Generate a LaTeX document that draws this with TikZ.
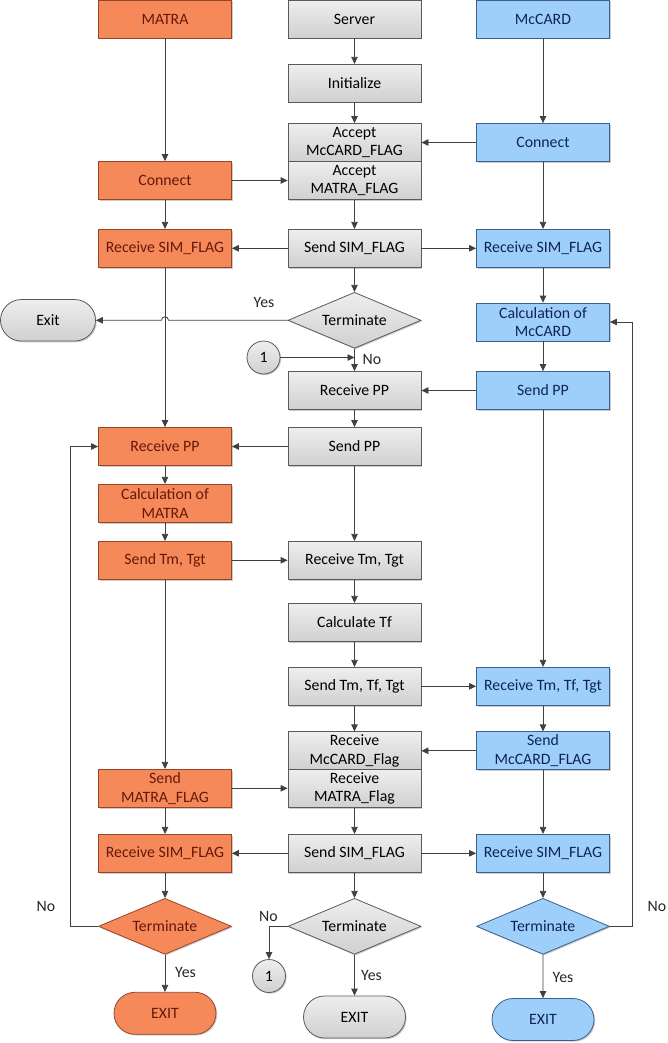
\documentclass[tikz,border=0pt]{standalone}
\usepackage{fontspec}
\setmainfont{Carlito}
\usetikzlibrary{arrows.meta,shapes.geometric,shapes.misc,shadows}
\definecolor{orfill}{RGB}{246,137,90}
\definecolor{ordraw}{RGB}{150,70,40}
\definecolor{ortext}{RGB}{100,25,10}
\definecolor{blfill}{RGB}{158,207,250}
\definecolor{bldraw}{RGB}{60,95,140}
\definecolor{bltext}{RGB}{15,35,90}
\definecolor{grtop}{RGB}{238,238,238}
\definecolor{grbot}{RGB}{208,208,208}
\definecolor{grdraw}{RGB}{90,90,90}
\definecolor{linec}{RGB}{64,64,64}
\begin{document}
\begin{tikzpicture}[x=1pt,y=-1pt,
 font=\fontsize{15.8}{18.7}\selectfont,
 nbase/.style={draw,line width=0.8pt,inner sep=0pt,align=center,
   drop shadow={shadow xshift=1.2pt,shadow yshift=-1.2pt,opacity=0.2,fill=black}},
 ocol/.style={fill=orfill,draw=ordraw,text=ortext},
 bcol/.style={fill=blfill,draw=bldraw,text=bltext},
 gcol/.style={top color=grtop,bottom color=grbot,draw=grdraw,text=black},
 box/.style={nbase,rectangle,minimum width=133pt,minimum height=38pt},
 obox/.style={box,ocol},
 bbox/.style={box,bcol},
 gbox/.style={box,gcol},
 dia/.style={nbase,diamond,aspect=2.375,minimum width=133pt,minimum height=56pt},
 termnl/.style={nbase,rounded rectangle,minimum width=102pt,minimum height=42pt},
 conn/.style={nbase,circle,minimum size=33pt,gcol},
 arr/.style={-{Triangle[length=7pt,width=6.5pt]},line width=0.8pt,draw=linec},
 lbl/.style={font=\fontsize{15.8}{18}\selectfont,text=black!85,inner sep=0pt}
]
\useasboundingbox (0,0) rectangle (668,1043);

% top row
\node[obox] (matra) at (165,19) {MATRA};
\node[gbox] (server) at (354.5,19) {Server};
\node[bbox] (mccard) at (543,19) {McCARD};
\node[gbox] (init) at (354.5,83.3) {Initialize};
\node[gbox] (accmc) at (354.5,142.5) {Accept\\McCARD\_FLAG};
\node[gbox] (accma) at (354.5,180.5) {Accept\\MATRA\_FLAG};
\node[obox] (conL) at (165,180.5) {Connect};
\node[bbox] (conR) at (543,142.5) {Connect};
\node[obox] (rsimL1) at (165,248.3) {Receive SIM\_FLAG};
\node[gbox] (ssim1) at (354.5,248.3) {Send SIM\_FLAG};
\node[bbox] (rsimR1) at (543,248.3) {Receive SIM\_FLAG};
\node[dia,gcol] (term1) at (354.5,320.3) {Terminate};
\node[termnl,gcol,minimum width=95pt,minimum height=41.5pt] (exit1) at (48,320.3) {Exit};
\node[bbox] (calcmc) at (543,322) {Calculation of\\McCARD};
\node[conn] (c1) at (263.5,357.5) {1};
\node[gbox] (rppM) at (354.5,390.5) {Receive PP};
\node[bbox] (sppR) at (543,390.5) {Send PP};
\node[obox] (rppL) at (165,446.5) {Receive PP};
\node[gbox] (sppM) at (354.5,446.5) {Send PP};
\node[obox] (calcma) at (165,503.3) {Calculation of\\MATRA};
\node[obox] (stmL) at (165,560.3) {Send Tm, Tgt};
\node[gbox] (rtmM) at (354.5,560.3) {Receive Tm, Tgt};
\node[gbox] (calctf) at (354.5,622.3) {Calculate Tf};
\node[gbox] (stfM) at (354.5,686.3) {Send Tm, Tf, Tgt};
\node[bbox] (rtfR) at (543,686.3) {Receive Tm, Tf, Tgt};
\node[gbox] (rmcf) at (354.5,750.8) {Receive\\McCARD\_Flag};
\node[bbox] (smcf) at (543,750.8) {Send\\McCARD\_FLAG};
\node[gbox] (rmaf) at (354.5,788.3) {Receive\\MATRA\_Flag};
\node[obox] (smaf) at (165,788.3) {Send\\MATRA\_FLAG};
\node[obox] (rsimL2) at (165,853.3) {Receive SIM\_FLAG};
\node[gbox] (ssim2) at (354.5,853.3) {Send SIM\_FLAG};
\node[bbox] (rsimR2) at (543,853.3) {Receive SIM\_FLAG};
\node[dia,ocol] (termL) at (165,926.3) {Terminate};
\node[dia,gcol] (termM) at (354.5,926.3) {Terminate};
\node[dia,bcol] (termR) at (543,926.3) {Terminate};
\node[conn] (c2) at (269,976) {1};
\node[termnl,ocol] (exitL) at (165,1013.3) {EXIT};
\node[termnl,gcol] (exitM) at (354.5,1017) {EXIT};
\node[termnl,bcol] (exitR) at (543,1019.5) {EXIT};

% labels
\node[lbl] (yes1) at (264,302) {Yes};
\node[lbl] (no1) at (372,359.5) {No};
\node[lbl] (noL) at (46,906.7) {No};
\node[lbl] (yesL) at (185.5,972) {Yes};
\node[lbl] (noM) at (268.5,916) {No};
\node[lbl] (yesM) at (371.5,975.7) {Yes};
\node[lbl] (noR) at (657,906) {No};
\node[lbl] (yesR) at (563,977) {Yes};

% left column
\draw[arr] (matra) -- (conL);
\draw[arr] (conL) -- (rsimL1);
\draw[arr] (rsimL1) -- (rppL);
\draw[arr] (rppL) -- (calcma);
\draw[arr] (calcma) -- (stmL);
\draw[arr] (stmL) -- (smaf);
\draw[arr] (smaf) -- (rsimL2);
\draw[arr] (rsimL2) -- (termL);
\draw[arr] (termL) -- (exitL);
\draw[arr] (termL.west) -- ++(-28,0) |- (rppL.west);
\draw[arr] (conL) -- (accma);

% middle column
\draw[arr] (server) -- (init);
\draw[arr] (init) -- (accmc);
\draw[arr] (accma) -- (ssim1);
\draw[arr] (ssim1) -- (rsimL1);
\draw[arr] (ssim1) -- (rsimR1);
\draw[arr] (ssim1) -- (term1);
\draw[arr] (term1.west) -- (168.5,320.3) .. controls (168.5,315.6) and (161.5,315.6) .. (161.5,320.3) -- (exit1.east);
\draw[arr] (term1) -- (rppM);
\draw[arr] (c1) -- (c1 -| rppM);
\draw[arr] (rppM) -- (sppM);
\draw[arr] (sppM) -- (rppL);
\draw[arr] (sppM) -- (rtmM);
\draw[arr] (stmL) -- (rtmM);
\draw[arr] (rtmM) -- (calctf);
\draw[arr] (calctf) -- (stfM);
\draw[arr] (stfM) -- (rtfR);
\draw[arr] (stfM) -- (rmcf);
\draw[arr] (smcf) -- (rmcf);
\draw[arr] (smaf) -- (rmaf);
\draw[arr] (rmaf) -- (ssim2);
\draw[arr] (ssim2) -- (rsimL2);
\draw[arr] (ssim2) -- (rsimR2);
\draw[arr] (ssim2) -- (termM);
\draw[arr] (termM.west) -| (c2.north);
\draw[arr] (termM) -- (exitM);

% right column
\draw[arr] (mccard) -- (conR);
\draw[arr] (conR) -- (accmc);
\draw[arr] (conR) -- (rsimR1);
\draw[arr] (rsimR1) -- (calcmc);
\draw[arr] (calcmc) -- (sppR);
\draw[arr] (sppR) -- (rppM);
\draw[arr] (sppR) -- (rtfR);
\draw[arr] (rtfR) -- (smcf);
\draw[arr] (smcf) -- (rsimR2);
\draw[arr] (rsimR2) -- (termR);
\draw[arr] (termR) -- (exitR);
\draw[arr] (termR.east) -- ++(22,0) |- (calcmc.east);
\end{tikzpicture}
\end{document}
